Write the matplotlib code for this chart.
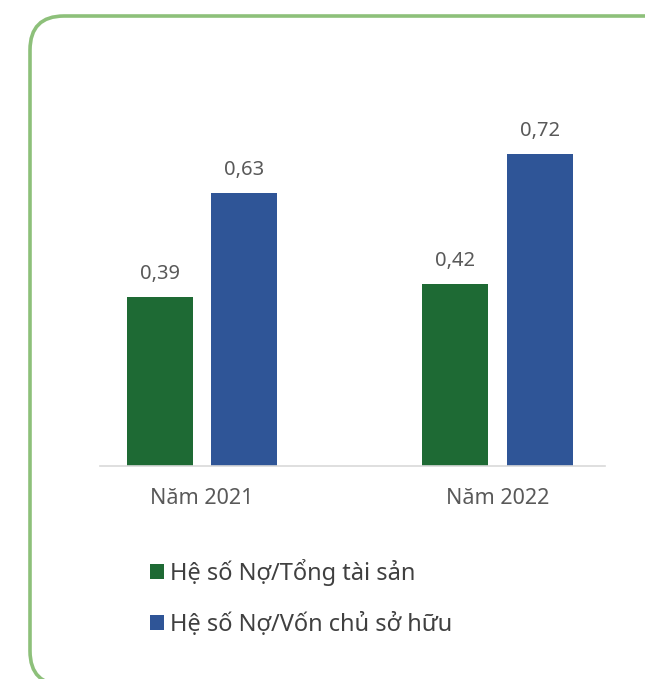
import matplotlib.pyplot as plt
import numpy as np
from matplotlib.patches import FancyBboxPatch, Patch

plt.rcParams['font.family'] = ['Noto Sans', 'DejaVu Sans']

categories = ["Năm 2021", "Năm 2022"]
series_names = ["Hệ số Nợ/Tổng tài sản", "Hệ số Nợ/Vốn chủ sở hữu"]
no_tong_ts = [0.39, 0.42]
no_von_csh = [0.63, 0.72]
colors = ["#1E6A34", "#2F5597"]

fig = plt.figure(figsize=(6.45, 6.79), dpi=100)

# khung bo tròn phía sau (toạ độ pixel, gốc ở dưới)
bg = fig.add_axes([0, 0, 1, 1], zorder=0)
bg.set_xlim(0, 645)
bg.set_ylim(0, 679)
bg.axis('off')
frame = FancyBboxPatch((30, -6), 652, 669, boxstyle="round,pad=0,rounding_size=34",
                       fill=False, edgecolor="#8DC07A", linewidth=2.6, clip_on=False)
bg.add_patch(frame)

ax = fig.add_axes([0.155, 0.3137, 0.783, 0.5113], zorder=1)
ax.patch.set_alpha(0)

x = np.arange(len(categories))
w = 0.224
off = 0.143
values = [no_tong_ts, no_von_csh]
for i, (vals, c) in enumerate(zip(values, colors)):
    pos = x + (off if i else -off)
    bars = ax.bar(pos, vals, width=w, color=c, label=series_names[i])
    for b, v in zip(bars, vals):
        ax.annotate(f"{v:.2f}".replace(".", ","), (b.get_x() + b.get_width() / 2, v),
                    xytext=(0, 9), textcoords="offset points", ha="center", va="bottom",
                    fontsize=14.5, color="#595959")

ax.set_xlim(-0.346, 1.364)
ax.set_ylim(0, 0.8)
ax.set_yticks([])
ax.set_xticks(x)
ax.set_xticklabels(categories, fontsize=15.5, color="#595959")
ax.tick_params(axis='x', length=0, pad=16)
for s in ["top", "right", "left"]:
    ax.spines[s].set_visible(False)
ax.spines["bottom"].set_color("#D9D9D9")
ax.spines["bottom"].set_linewidth(1.2)

handles = [Patch(facecolor=c) for c in colors]
fig.legend(handles, series_names, loc="upper left", bbox_to_anchor=(0.232, 0.177),
           frameon=False, fontsize=17, labelcolor="#404040",
           handlelength=0.6, handleheight=0.6, handletextpad=0.25, labelspacing=1.15,
           borderaxespad=0, borderpad=0)

fig.savefig("out.png", dpi=100)
